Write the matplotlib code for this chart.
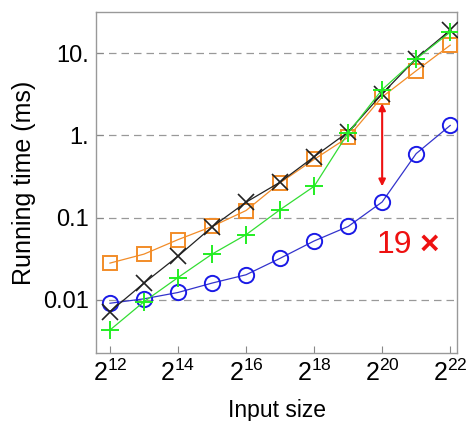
import matplotlib
matplotlib.use("Agg")
import matplotlib.pyplot as plt
import numpy as np

plt.rcParams['font.family'] = ['Liberation Sans', 'DejaVu Sans']
plt.rcParams['mathtext.fontset'] = 'custom'
plt.rcParams['mathtext.rm'] = 'Liberation Sans'
plt.rcParams['mathtext.it'] = 'Liberation Sans'

exponents = list(range(12, 23))
orange_sq = [0.028, 0.036, 0.054, 0.078, 0.122, 0.265, 0.51, 0.95, 2.93, 6.1, 12.5]
black_x = [0.0072, 0.016, 0.034, 0.077, 0.154, 0.27, 0.55, 1.1, 3.2, 8.6, 19.0]
green_plus = [0.0043, 0.0095, 0.0187, 0.036, 0.062, 0.125, 0.24, 1.07, 3.6, 8.5, 18.0]
blue_o = [0.0091, 0.0103, 0.0123, 0.016, 0.0202, 0.032, 0.052, 0.078, 0.155, 0.6, 1.32]

ytick_vals = [0.01, 0.1, 1, 10]
ytick_labels = ['0.01', '0.1', '1.', '10.']
xtick_exps = [12, 14, 16, 18, 20, 22]
arrow_x_exp = 20
arrow_top = 2.45
arrow_bottom = 0.24
speedup_num = '19'
speedup_sign = '×'

x = [2.0 ** e for e in exponents]

fig = plt.figure(figsize=(4.67, 4.21), dpi=100)
ax = fig.add_axes([0.2056, 0.1615, 0.773, 0.81])

ax.set_xscale('log', base=2)
ax.set_yscale('log')

for yv in ytick_vals:
    ax.axhline(yv, color='#999999', lw=0.9, ls=(0, (6, 4)), zorder=0)

ax.plot(x, orange_sq, color='#F28C28', lw=0.9, marker='s', ms=9.5, mfc='none',
        mec='#F28C28', mew=1.4, zorder=3)
ax.plot(x, black_x, color='#222222', lw=0.9, marker='x', ms=11, mec='#222222',
        mew=1.2, zorder=4)
ax.plot(x, green_plus, color='#33DD33', lw=0.9, marker='+', ms=13, mec='#22EE22',
        mew=1.4, zorder=5)
ax.plot(x, blue_o, color='#3333CC', lw=0.9, marker='o', ms=11, mfc='none',
        mec='#1A1AE6', mew=1.4, zorder=3)

ax.annotate('', xy=(2.0 ** arrow_x_exp, arrow_bottom), xytext=(2.0 ** arrow_x_exp, arrow_top),
            arrowprops=dict(arrowstyle='<|-|>', color='#EE1111', lw=1.5,
                            mutation_scale=10, shrinkA=0, shrinkB=0))
ax.text(2.0 ** 19.85, 0.046, speedup_num, color='#EE1111', fontsize=23,
        ha='left', va='center')
ax.text(2.0 ** 21.38, 0.046, speedup_sign, color='#EE1111', fontsize=24,
        fontweight='bold', ha='center', va='center')

ax.set_xlim(2.0 ** 11.59, 2.0 ** 22.2)
ax.set_ylim(10 ** -2.646, 10 ** 1.5)

ax.set_xticks([2.0 ** e for e in xtick_exps])
ax.set_xticklabels([r'$\mathregular{2^{%d}}$' % e for e in xtick_exps], fontsize=18)
ax.set_yticks(ytick_vals)
ax.set_yticklabels(ytick_labels, fontsize=17)
ax.minorticks_off()
ax.tick_params(direction='in', length=5, width=0.8, color='#888888', pad=5)

for s in ax.spines.values():
    s.set_color('#999999')
    s.set_linewidth(1.0)

ax.set_xlabel('Input size', fontsize=16.5, labelpad=9)
ax.set_ylabel('Running time (ms)', fontsize=18, labelpad=5)

fig.savefig('out.png', dpi=100)
